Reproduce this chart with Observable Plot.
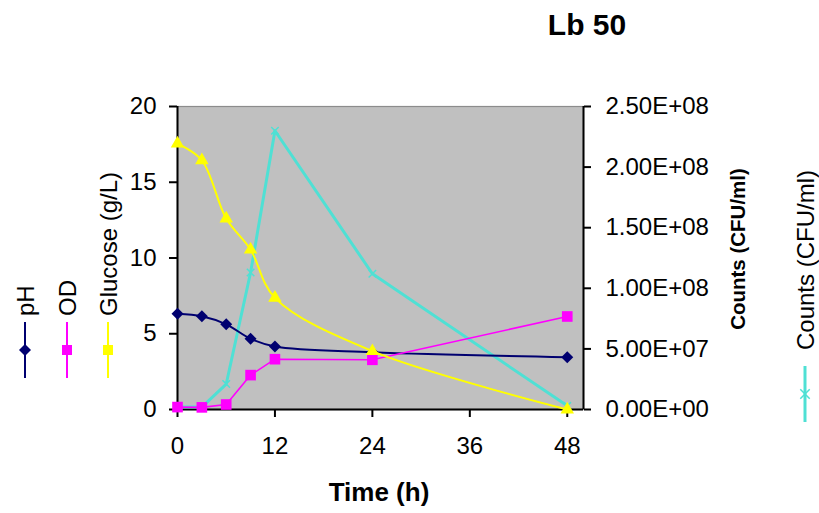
<!DOCTYPE html>
<html>
<head>
<meta charset="utf-8">
<script src="https://cdn.jsdelivr.net/npm/d3@7"></script>
<script src="https://cdn.jsdelivr.net/npm/@observablehq/plot@0.6"></script>
<style>
  html, body { margin: 0; padding: 0; background: #fff; }
  #chart svg { display: block; }
</style>
</head>
<body>
<div id="chart"></div>
<script>
// Lb 50 fermentation: sampling times (h)
const hours = [0, 3, 6, 9, 12, 24, 48];
// primary axis series
const pH = [6.32, 6.15, 5.62, 4.67, 4.16, 3.78, 3.45];
const od = [0.16, 0.14, 0.33, 2.27, 3.32, 3.28, 6.14];
const glucose = [17.55, 16.45, 12.6, 10.55, 7.37, 3.85, 0];
// secondary axis series (CFU/ml)
const counts = [2e6, 2e6, 2.1e7, 1.13e8, 2.3e8, 1.12e8, 3e6];

// tick values
const timeTicks = [0, 12, 24, 36, 48];
const leftTicks = [0, 5, 10, 15, 20];
const countTicks = [0, 5e7, 1e8, 1.5e8, 2e8, 2.5e8];

// counts share the left scale: 2.5E+08 on the right lines up with 20 on the left
const leftMax = 20, countMax = 2.5e8;
const k = leftMax / countMax;

function sci(v) {
  if (v === 0) return "0.00E+00";
  const e = Math.floor(Math.log10(v) + 1e-9);
  const m = v / Math.pow(10, e);
  return m.toFixed(2) + "E" + (e < 0 ? "-" : "+") + String(Math.abs(e)).padStart(2, "0");
}

const rows = hours.map((h, i) => ({
  h, pH: pH[i], od: od[i], glucose: glucose[i], counts: counts[i] * k
}));

const colors = { pH: "#000070", od: "#ff00ff", glucose: "#ffff00", counts: "#4fe0d4" };
const smooth = "catmull-rom";

const chart = Plot.plot({
  width: 819,
  height: 513,
  marginLeft: 177,
  marginRight: 236,
  marginTop: 106,
  marginBottom: 104,
  style: { fontFamily: "'Liberation Sans', Arial, sans-serif", fontSize: "24px", color: "#000", background: "#fff" },
  x: { domain: [0, 50] },
  y: { domain: [0, leftMax] },
  marks: [
    Plot.frame({ fill: "#c0c0c0", stroke: "#8c8c8c", strokeWidth: 1.2 }),
    Plot.axisX({ ticks: timeTicks, tickSize: 8, tickPadding: 19, label: null, strokeWidth: 2 }),
    Plot.axisY({ ticks: leftTicks, tickSize: 8, tickPadding: 13, label: null, strokeWidth: 2 }),
    Plot.axisY({
      anchor: "right", ticks: countTicks.map(c => c * k), tickSize: 7, tickPadding: 15, label: null, strokeWidth: 2,
      tickFormat: d => sci(Math.round(d / k / 1e6) * 1e6), textAnchor: "start"
    }),
    Plot.ruleX([0], { stroke: "#000", strokeWidth: 2 }),
    Plot.ruleX([50], { stroke: "#000", strokeWidth: 2 }),
    Plot.ruleY([0], { stroke: "#000", strokeWidth: 2 }),

    // counts (secondary axis)
    Plot.line(rows, { x: "h", y: "counts", stroke: colors.counts, strokeWidth: 3, curve: "linear" }),
    Plot.dot(rows, { x: "h", y: "counts", symbol: "times", stroke: colors.counts, r: 3.5, strokeWidth: 1.5 }),

    // pH
    Plot.line(rows, { x: "h", y: "pH", stroke: colors.pH, strokeWidth: 2, curve: smooth }),
    Plot.dot(rows, { x: "h", y: "pH", symbol: "diamond2", fill: colors.pH, r: 5.4 }),

    // OD
    Plot.line(rows, { x: "h", y: "od", stroke: colors.od, strokeWidth: 1.6, curve: "linear" }),
    Plot.dot(rows, { x: "h", y: "od", symbol: "square", fill: colors.od, r: 6 }),

    // glucose
    Plot.line(rows, { x: "h", y: "glucose", stroke: colors.glucose, strokeWidth: 2, curve: smooth }),
    Plot.dot(rows, { x: "h", y: "glucose", symbol: "triangle", fill: colors.glucose, r: 5 })
  ]
});

document.getElementById("chart").appendChild(chart);

// titles and legends
const svg = d3.select(chart);
const font = "'Liberation Sans', Arial, sans-serif";

svg.append("text")
  .attr("x", 587).attr("y", 35)
  .attr("text-anchor", "middle")
  .attr("font-family", font).attr("font-size", 30).attr("font-weight", "bold")
  .text("Lb 50");

svg.append("text")
  .attr("x", 379).attr("y", 501)
  .attr("text-anchor", "middle")
  .attr("font-family", font).attr("font-size", 26).attr("font-weight", "bold")
  .text("Time (h)");

svg.append("text")
  .attr("transform", "translate(745,249) rotate(-90)")
  .attr("text-anchor", "middle")
  .attr("font-family", font).attr("font-size", 20.5).attr("font-weight", "bold")
  .text("Counts (CFU/ml)");

// vertical legend entries: rotated label above a short line with the series marker
function legendEntry(cx, textBottom, lineTop, lineBottom, label, color, symbol, size, filled) {
  const g = svg.append("g");
  g.append("text")
    .attr("transform", `translate(${cx + 8.5},${textBottom}) rotate(-90)`)
    .attr("text-anchor", "start")
    .attr("font-family", font).attr("font-size", 24)
    .text(label);
  g.append("line")
    .attr("x1", cx).attr("x2", cx).attr("y1", lineTop).attr("y2", lineBottom)
    .attr("stroke", color).attr("stroke-width", symbol === d3.symbolTimes ? 3 : 2);
  const mid = (lineTop + lineBottom) / 2;
  g.append("path")
    .attr("transform", `translate(${cx},${mid})`)
    .attr("d", d3.symbol(symbol, size)())
    .attr("fill", filled ? color : "none")
    .attr("stroke", filled ? "none" : color)
    .attr("stroke-width", 1.5);
}

legendEntry(25, 316, 322, 378, "pH", colors.pH, d3.symbolDiamond2, 92, true);
legendEntry(67, 316, 322, 378, "OD", colors.od, d3.symbolSquare, 100, true);
legendEntry(108, 316, 322, 378, "Glucose (g/L)", colors.glucose, d3.symbolSquare, 100, true);
legendEntry(805, 350, 366, 422, "Counts (CFU/ml)", colors.counts, d3.symbolTimes, 60, false);
</script>
</body>
</html>
